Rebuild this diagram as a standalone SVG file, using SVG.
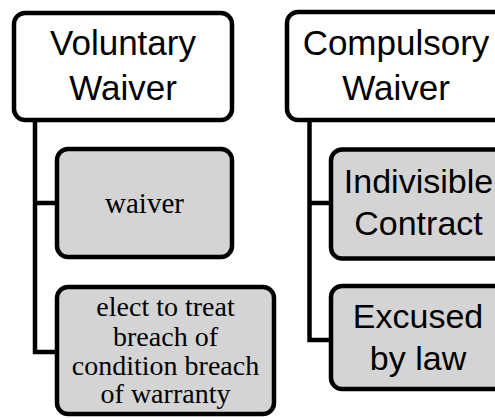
<svg xmlns="http://www.w3.org/2000/svg" width="495" height="418" viewBox="0 0 495 418">
<style>
.hdr{fill:#ffffff;stroke:#000;stroke-width:4.5}
.kid{fill:#d4d4d4;stroke:#000;stroke-width:4.5}
.sans{font-family:"Liberation Sans",Arial,sans-serif;font-size:35px;fill:#000;text-anchor:middle}
.sans2{font-family:"Liberation Sans",Arial,sans-serif;font-size:34px;fill:#000;text-anchor:middle}
.serif{font-family:"Liberation Serif","Times New Roman",serif;font-size:29px;fill:#000;text-anchor:middle}
.serif2{font-family:"Liberation Serif","Times New Roman",serif;font-size:28px;fill:#000;text-anchor:middle}
.conn{fill:none;stroke:#000;stroke-width:4.5}
</style>
<rect width="495" height="418" fill="#fff"/>
<g id="connectors">
<path class="conn" d="M35,120 V352 H57 M35,203 H57"/>
<path class="conn" d="M309.5,120 V340 H331 M309.5,203 H331"/>
</g>
<g id="voluntary">
<rect class="hdr" x="14" y="13" width="218" height="107" rx="11"/>
<text class="sans" x="123" y="55">Voluntary</text>
<text class="sans" x="123" y="100">Waiver</text>
</g>
<g id="waiver">
<rect class="kid" x="57" y="149" width="175" height="108" rx="11"/>
<text class="serif" x="144.5" y="213">waiver</text>
</g>
<g id="elect">
<rect class="kid" x="57" y="287" width="217" height="127" rx="11"/>
<text class="serif2" x="165.5" y="316">elect to treat</text>
<text class="serif2" x="165.5" y="345.5">breach of</text>
<text class="serif2" x="165.5" y="375">condition breach</text>
<text class="serif2" x="165.5" y="403">of warranty</text>
</g>
<g id="compulsory">
<rect class="hdr" x="287" y="12" width="218" height="108" rx="11"/>
<text class="sans" x="396" y="55">Compulsory</text>
<text class="sans" x="396" y="100">Waiver</text>
</g>
<g id="indivisible">
<rect class="kid" x="331" y="149.5" width="175" height="109" rx="11"/>
<text class="sans2" x="418.5" y="193">Indivisible</text>
<text class="sans2" x="418.5" y="235">Contract</text>
</g>
<g id="excused">
<rect class="kid" x="331" y="286" width="175" height="103" rx="11"/>
<text class="sans2" x="418" y="328">Excused</text>
<text class="sans2" x="418" y="370">by law</text>
</g>
</svg>
